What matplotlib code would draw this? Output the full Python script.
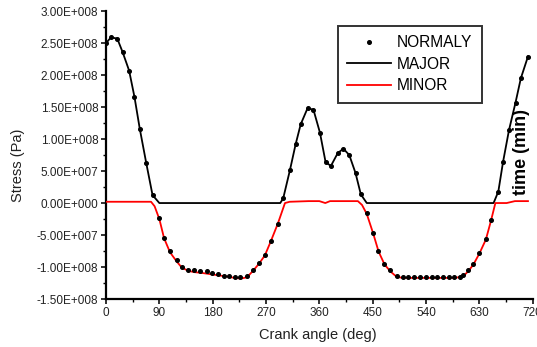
import matplotlib.pyplot as plt
from matplotlib.ticker import MultipleLocator, FuncFormatter

plt.rcParams["font.family"] = ["Liberation Sans", "DejaVu Sans"]

# stress values in units of 1E8 Pa
normaly_pos_x = [0, 8.5, 19, 28, 39, 48, 57, 68, 78.5,
                 299, 310.5, 320, 328.5, 340, 350, 361, 370.5, 379.5, 391, 400.5, 410.5, 421, 430,
                 662, 670, 680, 691, 700, 712]
normaly_pos_y = [2.50, 2.59, 2.57, 2.36, 2.07, 1.66, 1.16, 0.62, 0.125,
                 0.073, 0.52, 0.92, 1.23, 1.48, 1.46, 1.10, 0.64, 0.58, 0.78, 0.85, 0.75, 0.47, 0.135,
                 0.18, 0.645, 1.14, 1.57, 1.95, 2.29]
normaly_neg_x = [90, 98, 108, 119, 128, 139, 149, 158.5, 170, 179, 189.5, 199, 208, 217.5, 226,
                 238.5, 248.5, 258, 268, 278, 290,
                 440, 451, 459.5, 469.5, 479, 490.5, 500.5, 510, 520, 530, 539.5, 549.5, 558, 568,
                 578, 587.5, 596.5, 602.5, 611, 619.5, 630, 641, 649.5]
normaly_neg_y = [-0.24, -0.54, -0.75, -0.89, -0.995, -1.05, -1.05, -1.07, -1.07, -1.10, -1.11, -1.135,
                 -1.14, -1.16, -1.16, -1.14, -1.04, -0.94, -0.81, -0.59, -0.32,
                 -0.16, -0.47, -0.75, -0.95, -1.05, -1.14, -1.16, -1.16, -1.16, -1.16, -1.16, -1.16,
                 -1.16, -1.16, -1.16, -1.16, -1.16, -1.125, -1.05, -0.95, -0.78, -0.56, -0.27]

major_x = [0, 8.5, 19, 28, 39, 48, 57, 68, 78.5, 90, 294,
           299, 310.5, 320, 328.5, 340, 350, 361, 370.5, 379.5, 391, 400.5, 410.5, 421, 430, 440,
           654, 662, 670, 680, 691, 700, 712]
major_y = [2.50, 2.59, 2.57, 2.36, 2.07, 1.66, 1.16, 0.62, 0.125, 0.0, 0.0,
           0.073, 0.52, 0.92, 1.23, 1.48, 1.46, 1.10, 0.64, 0.58, 0.78, 0.85, 0.75, 0.47, 0.135, 0.0,
           0.0, 0.18, 0.645, 1.14, 1.57, 1.95, 2.29]

minor_x = [0, 76, 82, 90, 98, 108, 119, 128, 139, 149, 160, 175, 190, 205, 217, 228, 238, 248, 258,
           268, 278, 290, 302, 310, 342, 360, 370, 378, 425, 432,
           440, 451, 460, 470, 480, 490, 500, 590, 603, 611, 620, 630, 641, 649.5, 657, 676, 690, 712]
minor_y = [0.02, 0.02, -0.05, -0.25, -0.55, -0.77, -0.91, -1.01, -1.06, -1.08, -1.09, -1.11, -1.13,
           -1.15, -1.17, -1.18, -1.16, -1.06, -0.95, -0.82, -0.60, -0.32, 0.0, 0.02, 0.03, 0.03,
           0.0, 0.03, 0.03, -0.03,
           -0.17, -0.48, -0.76, -0.96, -1.07, -1.15, -1.17, -1.17, -1.14, -1.07, -0.96, -0.79,
           -0.57, -0.28, 0.0, 0.0, 0.03, 0.03]

y_scale = 1e8


def sci_fmt(v, pos):
    if abs(v) < 1:
        return "0.00E+000"
    s = f"{v:.2E}"
    mant, exp = s.split("E")
    return f"{mant}E{exp[0]}{int(exp[1:]):03d}"


def main():
    fig = plt.figure(figsize=(5.37, 3.47), dpi=100)
    ax = fig.add_axes([0.1974, 0.1383, 0.7946, 0.8297])

    ax.plot(major_x, [v * y_scale for v in major_y], color="black", lw=1.3, label="MAJOR", zorder=3)
    ax.plot(minor_x, [v * y_scale for v in minor_y], color="red", lw=1.3, label="MINOR", zorder=3)
    ax.plot(normaly_pos_x + normaly_neg_x,
            [v * y_scale for v in normaly_pos_y + normaly_neg_y],
            ls="none", marker="o", ms=2.6, color="black", label="NORMALY", zorder=4)

    ax.set_xlim(0, 720)
    ax.set_ylim(-1.5e8, 3.0e8)
    ax.xaxis.set_major_locator(MultipleLocator(90))
    ax.xaxis.set_minor_locator(MultipleLocator(45))
    ax.yaxis.set_major_locator(MultipleLocator(5e7))
    ax.yaxis.set_minor_locator(MultipleLocator(2.5e7))
    ax.yaxis.set_major_formatter(FuncFormatter(sci_fmt))

    for side in ["top", "right"]:
        ax.spines[side].set_visible(False)
    for side in ["left", "bottom"]:
        ax.spines[side].set_linewidth(1.6)
    ax.tick_params(which="major", direction="out", length=3.5, width=1.3, labelsize=8.5,
                   colors="#222222", pad=2)
    ax.tick_params(which="minor", direction="out", length=2, width=1.0)

    ax.set_xlabel("Crank angle (deg)", fontsize=10.5, color="#222222")
    ax.set_ylabel("Stress (Pa)", fontsize=10.5, color="#222222")
    ax.xaxis.set_label_coords(0.497, -0.1)
    ax.yaxis.set_label_coords(-0.19, 0.465)

    ax.text(0.974, 0.512, "time (min)", transform=ax.transAxes, rotation=90,
            fontsize=13, fontweight="bold", ha="center", va="center")

    handles, labels = ax.get_legend_handles_labels()
    order = [2, 0, 1]
    leg = ax.legend([handles[i] for i in order], [labels[i] for i in order],
                    loc="upper left", bbox_to_anchor=(0.544, 0.948), fontsize=11.2,
                    frameon=True, fancybox=False, handlelength=2.8, handletextpad=0.4,
                    labelspacing=0.42, borderpad=0.6, borderaxespad=0)
    leg.get_frame().set_edgecolor("black")
    leg.get_frame().set_linewidth(1.4)

    fig.savefig("out.png", dpi=100)
    plt.close(fig)


if __name__ == "__main__":
    main()
